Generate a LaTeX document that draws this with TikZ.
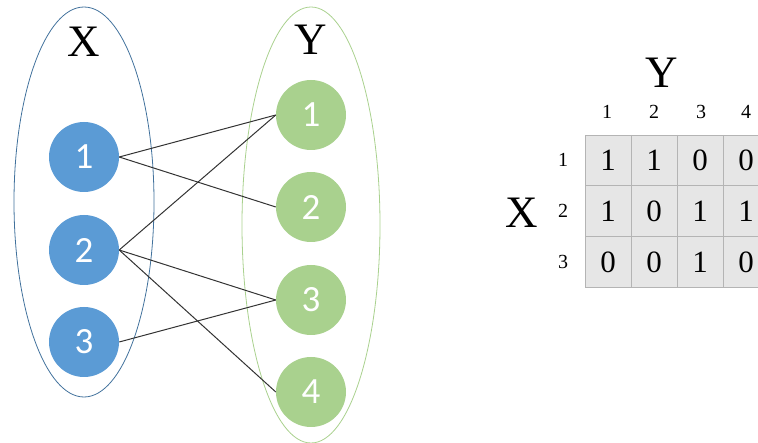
\documentclass[tikz,border=0pt]{standalone}
\usepackage{fontspec}
\setmainfont{Liberation Serif}
\newfontfamily\calib{Carlito}
\definecolor{bnode}{HTML}{5B9BD5}
\definecolor{gnode}{HTML}{A9D18E}
\definecolor{bline}{HTML}{41719C}
\definecolor{cellfill}{HTML}{E6E6E6}
\definecolor{cellline}{HTML}{B4B4B4}
\begin{document}
\begin{tikzpicture}[x=1pt,y=-1pt,
  vnode/.style={circle,minimum size=70pt,inner sep=0pt,text=white,font=\calib\fontsize{37}{40}\selectfont},
  xnode/.style={vnode,fill=bnode},
  ynode/.style={vnode,fill=gnode},
  edge/.style={draw=black!80,line width=1pt},
  big/.style={font=\fontsize{45}{48}\selectfont},
  small/.style={font=\fontsize{20}{22}\selectfont},
  cell/.style={font=\fontsize{31}{34}\selectfont}]
\useasboundingbox (0,0) rectangle (758,443);
\clip (0,0) rectangle (758,443);
% sets
\draw[bline,line width=0.8pt] (84,202) ellipse [x radius=70, y radius=195];
\draw[gnode,line width=0.8pt] (311,225) ellipse [x radius=69, y radius=218];
\node[big] (lx) at (84,42) {X};
\node[big] (ly) at (311,40) {Y};
\node[xnode] (x1) at (84,157) {1};
\node[xnode] (x2) at (84,250) {2};
\node[xnode] (x3) at (84,342) {3};
\node[ynode] (y1) at (311,115) {1};
\node[ynode] (y2) at (311,207) {2};
\node[ynode] (y3) at (311,300) {3};
\node[ynode] (y4) at (311,392) {4};
\draw[edge] (x1.east) -- (y1.west);
\draw[edge] (x1.east) -- (y2.west);
\draw[edge] (x2.east) -- (y1.west);
\draw[edge] (x2.east) -- (y3.west);
\draw[edge] (x2.east) -- (y4.west);
\draw[edge] (x3.east) -- (y3.west);
% matrix
\fill[cellfill] (585,135) rectangle (769,287);
\foreach \xx in {585,631,677,723,769} \draw[cellline,line width=0.8pt] (\xx,135) -- (\xx,287);
\foreach \yy in {135,185,236,287} \draw[cellline,line width=0.8pt] (585,\yy) -- (769,\yy);
\node[big] (my) at (662,73) {Y};
\node[big] (mx) at (522,213) {X};
\foreach \c/\xx in {1/607,2/654,3/701,4/746} \node[small] (h\c) at (\xx,112) {\c};
\foreach \r/\yy in {1/160,2/211,3/262} \node[small] (r\r) at (563,\yy) {\r};
\foreach \r/\yy/\a/\b/\cc/\d in {1/160/1/1/0/0, 2/211/1/0/1/1, 3/262/0/0/1/0}{
  \node[cell] at (608,\yy) {\a};
  \node[cell] at (654,\yy) {\b};
  \node[cell] at (700,\yy) {\cc};
  \node[cell] at (746,\yy) {\d};
}
\end{tikzpicture}
\end{document}
